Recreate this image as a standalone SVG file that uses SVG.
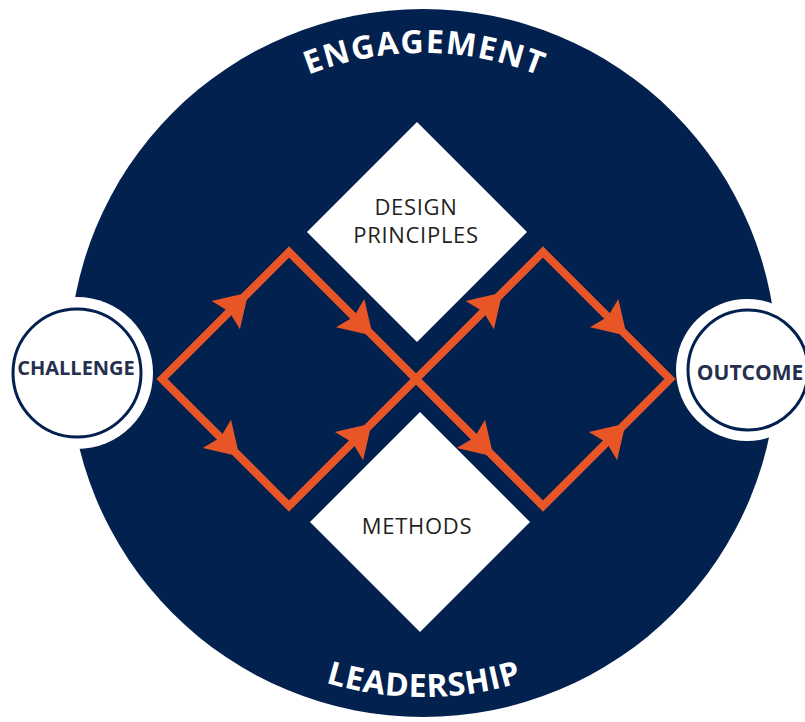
<svg xmlns="http://www.w3.org/2000/svg" xmlns:xlink="http://www.w3.org/1999/xlink" width="805" height="722" viewBox="0 0 805 722">
  <style>
    .navy { fill: #02214f; }
    .ring-text { font-family: "Open Sans", "Noto Sans", "Liberation Sans", sans-serif; font-weight: bold; font-size: 32px; fill: #ffffff; }
    .dia { fill: #ffffff; }
    .dia-text { font-family: "Open Sans", "Noto Sans", "Liberation Sans", sans-serif; font-size: 22px; fill: #231f20; text-anchor: middle; letter-spacing: 0.7px; }
    .end-outer { fill: #ffffff; }
    .end-inner { fill: #ffffff; stroke: #02214f; stroke-width: 3; }
    .end-text { font-family: "Open Sans", "Noto Sans", "Liberation Sans", sans-serif; font-weight: bold; fill: #25304f; text-anchor: middle; }
    .flow { fill: none; stroke: #e85628; stroke-width: 8; stroke-linejoin: miter; }
    .ah { fill: #e85628; }
  </style>
  <defs>
    <path id="ahead" d="M0,0 L-32,-20 L-27,0 L-32,20 Z"/>
    <path id="arcTop" d="M268,94.5 A310,310 0 0 1 578,94.5"/>
    <path id="arcBottom" d="M256,652.3 A334,334 0 0 0 590,652.3"/>
  </defs>

  <g id="engagement-leadership">
    <circle class="navy" cx="423" cy="363" r="354"/>
    <text class="ring-text"><textPath xlink:href="#arcTop" href="#arcTop" startOffset="50.5%" text-anchor="middle" letter-spacing="1.5">ENGAGEMENT</textPath></text>
    <text class="ring-text" font-size="33"><textPath xlink:href="#arcBottom" href="#arcBottom" startOffset="50.3%" text-anchor="middle" letter-spacing="0.6">LEADERSHIP</textPath></text>
  </g>

  <g id="design-principles">
    <polygon class="dia" points="417,122 527,232 417,342 307,232"/>
    <text class="dia-text" x="416" y="215">DESIGN</text>
    <text class="dia-text" x="416" y="243">PRINCIPLES</text>
  </g>

  <g id="methods">
    <polygon class="dia" points="420,412 530,522 420,632 310,522"/>
    <text class="dia-text" x="417" y="534">METHODS</text>
  </g>

  <g id="connectors">
    <path class="flow" d="M162,379 L289,252 L416,379 L289,506 Z"/>
    <path class="flow" d="M416,379 L543,252 L670,379 L543,506 Z"/>
    <use class="ah" href="#ahead" xlink:href="#ahead" transform="translate(248.4,292.6) rotate(-45)"/>
    <use class="ah" href="#ahead" xlink:href="#ahead" transform="translate(372.8,335.8) rotate(45)"/>
    <use class="ah" href="#ahead" xlink:href="#ahead" transform="translate(239.5,456.5) rotate(45)"/>
    <use class="ah" href="#ahead" xlink:href="#ahead" transform="translate(371.6,423.5) rotate(-45)"/>
    <use class="ah" href="#ahead" xlink:href="#ahead" transform="translate(502.4,292.6) rotate(-45)"/>
    <use class="ah" href="#ahead" xlink:href="#ahead" transform="translate(626.8,335.8) rotate(45)"/>
    <use class="ah" href="#ahead" xlink:href="#ahead" transform="translate(493.5,456.5) rotate(45)"/>
    <use class="ah" href="#ahead" xlink:href="#ahead" transform="translate(625.6,423.5) rotate(-45)"/>
  </g>

  <g id="challenge">
    <circle class="end-outer" cx="77" cy="373" r="76"/>
    <circle class="end-inner" cx="77" cy="373" r="64"/>
    <text class="end-text" x="76" y="375" font-size="20">CHALLENGE</text>
  </g>

  <g id="outcome">
    <circle class="end-outer" cx="747" cy="370" r="71"/>
    <circle class="end-inner" cx="748" cy="370" r="60"/>
    <text class="end-text" x="750" y="380" font-size="21">OUTCOME</text>
  </g>
</svg>
